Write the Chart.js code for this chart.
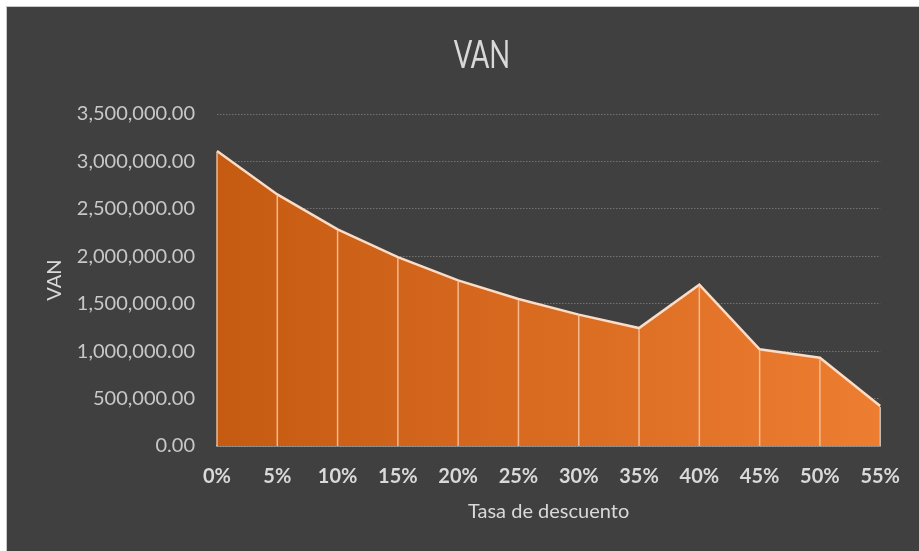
<!DOCTYPE html>
<html>
<head>
<meta charset="utf-8">
<script src="https://cdn.jsdelivr.net/npm/chart.js@4.4.1/dist/chart.umd.min.js"></script>
<style>
  html, body { margin: 0; padding: 0; background: #ffffff; }
  #panel { position: absolute; left: 6px; top: 6px; width: 913px; height: 545px;
           background: #404040; border-left: 1px solid #c8c8c8; border-top: 1px solid #c8c8c8; }
  #c { position: absolute; left: 0; top: 0; }
</style>
</head>
<body>
<div id="panel"><canvas id="c" width="912" height="544"></canvas></div>
<script>
// ---- data ----
const categories = ['0%','5%','10%','15%','20%','25%','30%','35%','40%','45%','50%','55%'];
const vanValues = [3110000, 2652000, 2283000, 1992000, 1746000, 1549000, 1385000, 1243000, 1700000, 1019000, 931000, 421000];
const yTicksMin = 0;
const yTicksMax = 3500000;
const yTicksStep = 500000;
const chartTitle = 'VAN';

const FONT = 'Lato, "Open Sans", sans-serif';

const dropLines = {
  id: 'dropLines',
  afterDatasetsDraw(chart) {
    const meta = chart.getDatasetMeta(0);
    const yScale = chart.scales.y;
    const base = yScale.getPixelForValue(0);
    const c = chart.ctx;
    c.save();
    c.lineWidth = 1.5;
    meta.data.forEach((pt, i) => {
      c.strokeStyle = (i === meta.data.length - 1) ? '#c9c0b8' : 'rgba(246,190,150,0.95)';
      c.beginPath();
      c.moveTo(pt.x, pt.y + 1);
      c.lineTo(pt.x, base);
      c.stroke();
    });
    c.restore();
  }
};

// narrow, light-looking title (Calibri Light substitute)
const narrowTitle = {
  id: 'narrowTitle',
  afterDraw(chart) {
    const c = chart.ctx;
    c.save();
    c.fillStyle = '#d9d9d9';
    c.font = '38px ' + FONT;
    c.textAlign = 'center';
    c.textBaseline = 'middle';
    c.translate(chart.width / 2 + 19, 49);
    c.scale(0.72, 1);
    c.fillText(chartTitle, 0, 0);
    c.restore();
  }
};

new Chart(document.getElementById('c'), {
  type: 'line',
  data: {
    labels: categories,
    datasets: [{
      label: 'VAN',
      data: vanValues,
      fill: 'origin',
      tension: 0,
      pointRadius: 0,
      borderColor: '#fbdcc6',
      borderWidth: 2.5,
      backgroundColor: (ctx) => {
        const chart = ctx.chart;
        const area = chart.chartArea;
        if (!area) return '#D66B20';
        const g = chart.ctx.createLinearGradient(area.left, 0, area.right, 0);
        g.addColorStop(0, '#C55A11');
        g.addColorStop(1, '#ED7D31');
        return g;
      }
    }]
  },
  options: {
    responsive: false,
    animation: false,
    devicePixelRatio: 1,
    layout: { padding: { left: 32, right: 37, top: 107, bottom: 23 } },
    plugins: {
      legend: { display: false },
      tooltip: { enabled: false },
      title: { display: false }
    },
    scales: {
      x: {
        z: 1,
        grid: { display: false, drawTicks: false },
        border: { display: true, color: '#bfbfbf', width: 1.5 },
        ticks: {
          color: '#d9d9d9',
          font: { family: FONT, size: 20, weight: 'bold' },
          padding: 19,
          maxRotation: 0,
          autoSkip: false
        },
        title: {
          display: true,
          text: 'Tasa de descuento',
          color: '#d9d9d9',
          font: { family: FONT, size: 20 },
          padding: { top: 4, bottom: 4 }
        },
        afterFit(scale) { scale.height = 82; }
      },
      y: {
        min: yTicksMin,
        max: yTicksMax,
        grid: {
          color: '#737373',
          lineWidth: 1,
          drawTicks: false
        },
        border: { display: false, dash: [1.5, 1.5] },
        ticks: {
          stepSize: yTicksStep,
          color: '#c8c8c8',
          font: { family: FONT, size: 20 },
          padding: 22,
          callback: (v) => Number(v).toLocaleString('en-US', { minimumFractionDigits: 2, maximumFractionDigits: 2 })
        },
        title: {
          display: true,
          text: 'VAN',
          color: '#d9d9d9',
          font: { family: FONT, size: 20 },
          padding: { top: 4, bottom: 4 }
        },
        afterFit(scale) { scale.width = 178; }
      }
    }
  },
  plugins: [dropLines, narrowTitle]
});
</script>
</body>
</html>
